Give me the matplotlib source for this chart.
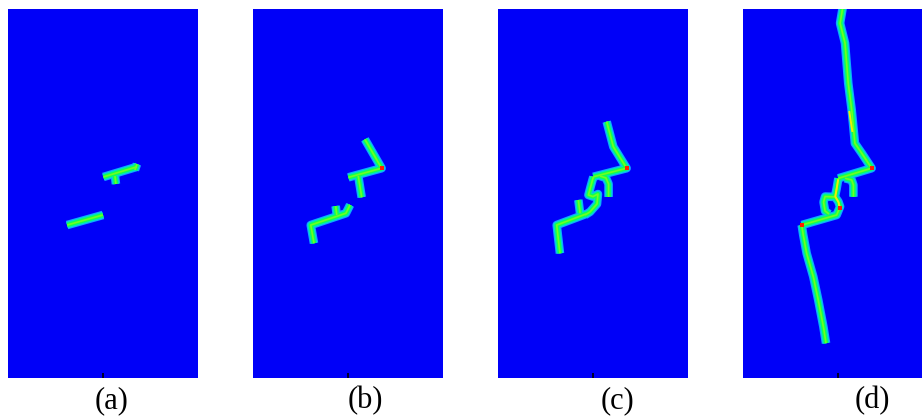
import matplotlib
matplotlib.use("Agg")
import matplotlib.pyplot as plt

# crack paths in specimen units (width 1.0, height 1.94)
crack_a = [
    [(0.311, 0.805), (0.500, 0.858)],
    [(0.502, 1.058), (0.677, 1.111)],
    [(0.563, 1.063), (0.568, 1.021)],
    [(0.668, 1.095), (0.679, 1.126)],
]
crack_b = [
    [(0.589, 1.256), (0.677, 1.104), (0.502, 1.056)],
    [(0.554, 1.063), (0.572, 0.951)],
    [(0.511, 0.911), (0.489, 0.867), (0.304, 0.805), (0.321, 0.709)],
    [(0.441, 0.858), (0.435, 0.905)],
]
crack_c = [
    [(0.572, 1.349), (0.607, 1.217), (0.677, 1.104), (0.502, 1.059)],
    [(0.502, 1.059), (0.487, 1.005), (0.476, 0.963), (0.500, 0.955),
     (0.526, 0.968), (0.521, 0.916), (0.484, 0.874), (0.458, 0.858)],
    [(0.537, 1.063), (0.568, 1.053), (0.582, 1.021), (0.582, 0.953)],
    [(0.463, 0.863), (0.309, 0.805), (0.326, 0.656)],
    [(0.432, 0.867), (0.423, 0.937)],
]
crack_d = [
    [(0.528, 1.968), (0.511, 1.867), (0.537, 1.762), (0.554, 1.551), (0.572, 1.411),
     (0.589, 1.235), (0.625, 1.183), (0.677, 1.104), (0.502, 1.051)],
    [(0.502, 1.051), (0.493, 0.998), (0.484, 0.954), (0.502, 0.928),
     (0.511, 0.902), (0.493, 0.858), (0.309, 0.805)],
    [(0.484, 0.953), (0.432, 0.955), (0.424, 0.926), (0.432, 0.879), (0.453, 0.863)],
    [(0.537, 1.051), (0.572, 1.042), (0.581, 1.016), (0.581, 0.954)],
    [(0.309, 0.805), (0.317, 0.753), (0.335, 0.656), (0.370, 0.533),
     (0.396, 0.411), (0.423, 0.270), (0.437, 0.183)],
]
# high damage spots (yellow/red in the colour map)
hot_yellow_d = [[(0.500, 1.040), (0.492, 0.990), (0.486, 0.955), (0.503, 0.925), (0.508, 0.895)],
                [(0.560, 1.400), (0.575, 1.300)]]
hot_red = {"b": [(0.677, 1.104)], "c": [(0.677, 1.104)],
           "d": [(0.677, 1.104), (0.309, 0.805), (0.508, 0.895)]}

panels = ["a", "b", "c", "d"]
cracks = [crack_a, crack_b, crack_c, crack_d]
labels = ["(a)", "(b)", "(c)", "(d)"]

W, H = 922, 416
left_px = [8, 253, 498, 743]
label_x = [112, 365, 618, 872]
layers = [(6.2, "#10a8ff"), (4.6, "#00e0d0"), (3.2, "#10ff50"), (1.2, "#70ff20")]

fig = plt.figure(figsize=(W / 100, H / 100), dpi=100)
for key, paths, x0, lab, lx in zip(panels, cracks, left_px, labels, label_x):
    ax = fig.add_axes([x0 / W, (H - 378) / H, 190 / W, 369 / H])
    ax.set_facecolor("#0000f8")
    for lw, col in layers:
        for p in paths:
            xs = [q[0] for q in p]
            ys = [q[1] for q in p]
            ax.plot(xs, ys, color=col, lw=lw, solid_capstyle="butt",
                    solid_joinstyle="round")
    if key == "d":
        for p in hot_yellow_d:
            ax.plot([q[0] for q in p], [q[1] for q in p], color="#f0f000", lw=1.4)
    for q in hot_red.get(key, []):
        ax.plot(q[0], q[1], "s", color="#ff2000", ms=3, mew=0)
    ax.set_xlim(0, 1)
    ax.set_ylim(0, 1.942)
    ax.set_xticks([0.5])
    ax.set_xticklabels([])
    ax.set_yticks([])
    ax.tick_params(axis="x", direction="in", length=3.5, width=1.2, color="black")
    for s in ax.spines.values():
        s.set_visible(False)
    fig.text(lx / W, 1 - 401 / H, lab, ha="center", va="center",
             fontsize=22, family="Liberation Serif")

plt.savefig("out.png", dpi=100)
